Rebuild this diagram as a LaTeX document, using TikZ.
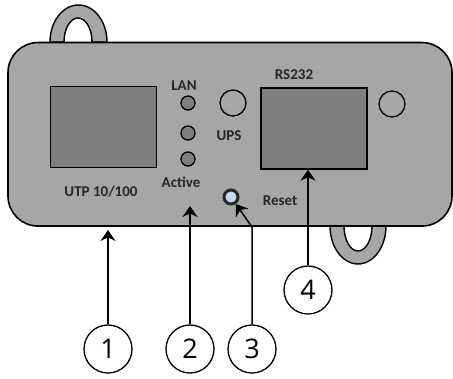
\documentclass[tikz,border=0pt]{standalone}
\usepackage{xcolor}
\usepackage{fontspec}
\setmainfont{Carlito}
\newfontfamily\calloutfont{Open Sans}
\usepackage{tikz}
\usetikzlibrary{arrows.meta, positioning, calc}
\definecolor{chassisgray}{RGB}{166, 166, 166}
\definecolor{portgray}{RGB}{127, 127, 127}
\definecolor{resetblue}{RGB}{198, 217, 241}

\begin{document}
\begin{tikzpicture}[
    x=1pt, y=1pt,
    chassis/.style={
        rectangle,
        draw=black,
        line width=1.6pt,
        fill=chassisgray,
        rounded corners=30pt,
        minimum width=444pt,
        minimum height=183.5pt,
        inner sep=0pt
    },
    port/.style={
        rectangle,
        draw=black,
        line width=1.4pt,
        fill=portgray,
        minimum width=106pt,
        minimum height=81pt,
        inner sep=0pt
    },
    led/.style={
        circle,
        draw=black,
        line width=1.3pt,
        fill=portgray,
        minimum size=14pt,
        inner sep=0pt
    },
    hole/.style={
        circle,
        draw=black,
        line width=1.3pt,
        fill=chassisgray,
        minimum size=26pt,
        inner sep=0pt
    },
    resetbtn/.style={
        circle,
        draw=black!85,
        line width=3pt,
        fill=resetblue,
        minimum size=14pt,
        inner sep=0pt
    },
    label/.style={
        font=\bfseries\fontsize{15}{17}\selectfont,
        text=black!85,
        inner sep=0pt
    },
    callout/.style={
        circle,
        draw=black,
        line width=1.3pt,
        fill=white,
        minimum size=48pt,
        inner sep=0pt,
        font=\calloutfont\fontsize{27}{30}\selectfont
    },
    arrow/.style={
        line width=1.5pt,
        -{Stealth[length=11pt, width=15pt]},
        draw=black
    },
    handle/.style={
        draw=black,
        line width=1.4pt,
        fill=chassisgray
    }
]
\useasboundingbox (0,0) rectangle (453,378);

% ==================== HANDLES ====================
\draw [handle] (50,336) arc[start angle=180, end angle=0, x radius=28.5, y radius=37]
    -- (92,336) arc[start angle=0, end angle=180, x radius=14, y radius=24] -- cycle;
\draw [handle] (330,152) arc[start angle=180, end angle=360, x radius=28, y radius=38]
    -- (372,152) arc[start angle=360, end angle=180, x radius=14, y radius=25] -- cycle;

% ==================== DEVICE BODY ====================
\node (body) [chassis] at (230,243.7) {};
\node (utp_port) [port] at (103.5,250.7) {};
\node (rs232_port) [port] at (314,249.5) {};

\node (led_lan) [led] at (188,275) {};
\node (led_mid) [led] at (188,245) {};
\node (led_active) [led] at (188,219) {};
\node (hole_ups) [hole] at (233,275) {};
\node (hole_right) [hole] at (392,274) {};
\node (reset_btn) [resetbtn] at (231,181) {};

% ==================== LABELS ====================
\node (lan_text) [label] at (184,292) {LAN};
\node (active_text) [label] at (181,196) {Active};
\node (utp_text) [label] at (101,186) {UTP 10/100};
\node (ups_text) [label] at (229,242) {UPS};
\node (rs232_text) [label] at (294,303) {RS232};
\node (reset_text) [label] at (280,177) {Reset};

% ==================== CALLOUTS ====================
\node (num_one) [callout] at (108,29) {1};
\node (num_two) [callout] at (190,29) {2};
\node (num_three) [callout] at (252,29) {3};
\node (num_four) [callout] at (308,88) {4};

\coordinate (tip_one) at (108,148);
\coordinate (tip_two) at (190,172);
\coordinate (bend_three) at (252,151);

% ==================== CONNECTIONS ====================
\draw [arrow] (num_one) -- (tip_one);
\draw [arrow] (num_two) -- (tip_two);
\draw [arrow] (num_three) -- (bend_three) -- (reset_btn);
\draw [arrow] (num_four) -- (num_four |- rs232_port.south);

\end{tikzpicture}
\end{document}
